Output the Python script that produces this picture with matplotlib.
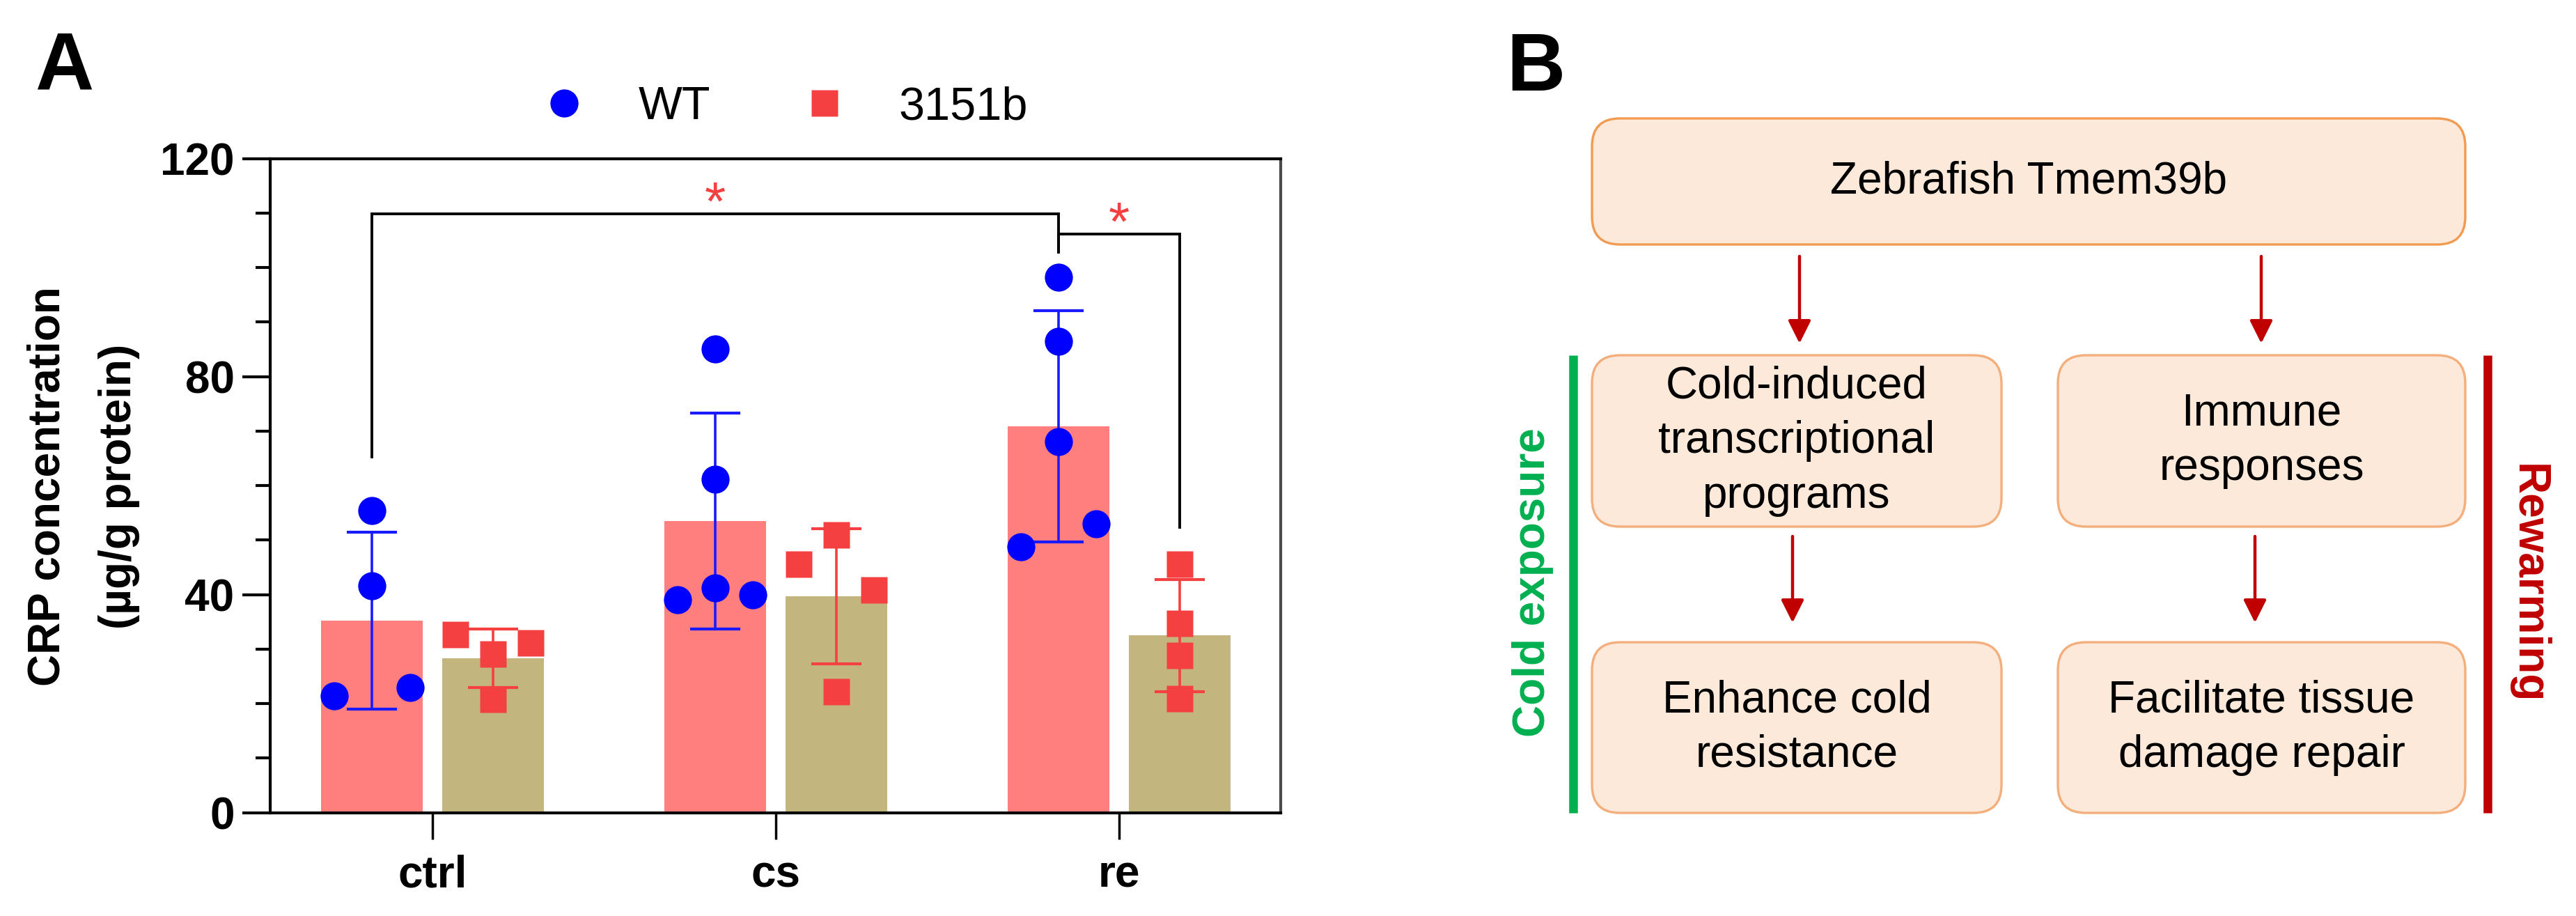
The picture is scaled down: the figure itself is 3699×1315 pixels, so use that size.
import matplotlib
matplotlib.use('Agg')
import matplotlib.pyplot as plt
from matplotlib.lines import Line2D
from matplotlib.patches import FancyBboxPatch
import numpy as np

plt.rcParams['font.family'] = ['Liberation Sans', 'DejaVu Sans']

# ---------------- data (panel A) ----------------
categories = ['ctrl', 'cs', 're']
groups = ['WT', '3151b']
wt_mean = [35.2, 53.5, 70.9]
wt_sd = [16.2, 19.8, 21.2]
mut_mean = [28.3, 39.7, 32.5]
mut_sd = [5.4, 12.4, 10.3]
wt_points = [[55.4, 41.6, 21.4, 23.0],
             [39.1, 41.2, 61.1, 85.1, 40.0],
             [48.8, 53.0, 68.0, 86.5, 98.2]]
wt_jitter = [[0, 0, -1, 1], [-1, 0, 0, 0, 1], [-1, 1, 0, 0, 0]]
mut_points = [[32.7, 29.1, 20.8, 31.2],
              [45.6, 50.9, 22.2, 40.9],
              [45.6, 34.7, 28.9, 20.9]]
mut_jitter = [[-1, 0, 0, 1], [-1, 0, 0, 1], [0, 0, 0, 0]]
y_ticks = [0, 40, 80, 120]
y_label = 'CRP concentration\n(µg/g protein)'
# brackets: (category a, series a, category b, series b, bar height, leg a bottom, leg b bottom, label)
brackets = [(0, 0, 2, 0, 109.9, 65.2, 102.8, '*'),
            (2, 0, 2, 1, 106.2, 102.8, 52.4, '*')]

# ---------------- data (panel B) ----------------
top_text = 'Zebrafish Tmem39b'
mid_texts = ['Cold-induced\ntranscriptional\nprograms', 'Immune\nresponses']
bottom_texts = ['Enhance cold\nresistance', 'Facilitate tissue\ndamage repair']
side_labels = ['Cold exposure', 'Rewarming']

# ---------------- figure ----------------
W, H = 3699, 1315
fig = plt.figure(figsize=(W / 100, H / 100), dpi=100)

C_WT_BAR = '#FF7F7F'
C_MUT_BAR = '#C2B67E'
C_BLUE = '#0000FF'
C_RED = '#F44040'

ax = fig.add_axes([388 / W, 1 - 1166.7 / H, (1839 - 388) / W, (1166.7 - 227.5) / H])
x = np.arange(len(categories))
off, bw, jit = 0.176, 0.296, 0.11

ax.bar(x - off, wt_mean, bw, color=C_WT_BAR, zorder=1)
ax.bar(x + off, mut_mean, bw, color=C_MUT_BAR, zorder=1)
ax.errorbar(x - off, wt_mean, yerr=wt_sd, fmt='none', ecolor='#1A1AFF',
            elinewidth=2.6, capsize=26, capthick=3, zorder=2)
ax.errorbar(x + off, mut_mean, yerr=mut_sd, fmt='none', ecolor=C_RED,
            elinewidth=2.6, capsize=26, capthick=3, zorder=2)
for i in range(len(categories)):
    ax.plot(x[i] - off + np.array(wt_jitter[i]) * jit, wt_points[i], 'o',
            color=C_BLUE, ms=29, mec='none', zorder=3)
    ax.plot(x[i] + off + np.array(mut_jitter[i]) * jit, mut_points[i], 's',
            color=C_RED, ms=27, mec='none', zorder=3)

# significance brackets
for ca, sa, cb, sb, yb, ya0, yb0, lab in brackets:
    xa = x[ca] + (off if sa else -off)
    xb = x[cb] + (off if sb else -off)
    ax.plot([xa, xa, xb, xb], [ya0, yb, yb, yb0], color='black', lw=2.8,
            zorder=4, solid_joinstyle='miter', clip_on=False)
    ax.text((xa + xb) / 2, yb - 1.2, lab, color=C_RED, fontsize=56,
            ha='center', va='baseline', zorder=5)

ax.set_xlim(-0.473, 2.471)
ax.set_ylim(0, 120)
ax.set_xticks(x)
ax.set_xticklabels(categories, fontsize=46, fontweight='bold')
ax.set_yticks(y_ticks)
ax.set_yticklabels([str(t) for t in y_ticks], fontsize=46, fontweight='bold')
ax.set_yticks(np.arange(0, 121, 10), minor=True)
ax.tick_params(axis='y', which='major', length=29, width=3, pad=8, direction='out')
ax.tick_params(axis='y', which='minor', length=15, width=3, direction='out')
ax.tick_params(axis='x', which='major', length=27, width=2.5, pad=16, direction='out')
for s in ['left', 'bottom', 'top']:
    ax.spines[s].set_linewidth(3)
ax.spines['right'].set_linewidth(3)
ax.spines['right'].set_color('#4a4a4a')
fig.text(120 / W, 1 - 698 / H, y_label, rotation=90, fontsize=46, fontweight='bold',
         ha='center', va='center', multialignment='center', linespacing=1.9)

handles = [Line2D([], [], marker='o', ls='none', color=C_BLUE, ms=29, mec='none'),
           Line2D([], [], marker='s', ls='none', color=C_RED, ms=27, mec='none')]
fig.legend(handles, groups, loc='center left', bbox_to_anchor=(777 / W, 1 - 154 / H),
           ncol=2, frameon=False, fontsize=48, handlelength=1.0, handletextpad=1.1,
           columnspacing=1.95, borderpad=0, borderaxespad=0)

fig.text(50 / W, 1 - 128 / H, 'A', fontsize=84, fontweight='bold', ha='left', va='baseline')
fig.text(2163 / W, 1 - 130 / H, 'B', fontsize=84, fontweight='bold', ha='left', va='baseline')

# ---------------- panel B ----------------
axB = fig.add_axes([1900 / W, 0, (W - 1900) / W, 1])
axB.set_xlim(1900, W)
axB.set_ylim(H, 0)
axB.axis('off')

FILL = '#FCE9DA'
EDGE_TOP = '#F19A50'
EDGE = '#F4AE7C'
DARKRED = '#C00000'
GREEN = '#00B050'


def box(x0, y0, x1, y1, text, edge):
    p = FancyBboxPatch((x0, y0), x1 - x0, y1 - y0,
                       boxstyle='round,pad=0,rounding_size=40',
                       fc=FILL, ec=edge, lw=2.4)
    axB.add_patch(p)
    axB.text((x0 + x1) / 2, (y0 + y1) / 2, text, fontsize=46, ha='center', va='center',
             multialignment='center', linespacing=1.4)


box(2286, 170, 3540, 351, top_text, EDGE_TOP)
box(2286, 510, 2874, 756, mid_texts[0], EDGE)
box(2955, 510, 3540, 756, mid_texts[1], EDGE)
box(2286, 922, 2874, 1167, bottom_texts[0], EDGE)
box(2955, 922, 3540, 1167, bottom_texts[1], EDGE)

arrow_kw = dict(arrowstyle='-|>', color=DARKRED, lw=3.2, mutation_scale=50,
                shrinkA=0, shrinkB=0)
for (xa, ya, yb) in [(2584, 368, 493), (3247, 368, 493), (2574, 770, 894), (3238, 770, 894)]:
    axB.annotate('', xy=(xa, yb), xytext=(xa, ya), arrowprops=arrow_kw)

axB.plot([2259, 2259], [510, 1167], color=GREEN, lw=9, solid_capstyle='butt')
axB.plot([3572, 3572], [510, 1167], color=DARKRED, lw=9, solid_capstyle='butt')
axB.text(2201, 836, side_labels[0], rotation=90, color=GREEN, fontsize=46,
         fontweight='bold', ha='center', va='center')
axB.text(3630, 838, side_labels[1], rotation=-90, color=DARKRED, fontsize=46,
         fontweight='bold', ha='center', va='center')

fig.savefig('out.png', dpi=100)
